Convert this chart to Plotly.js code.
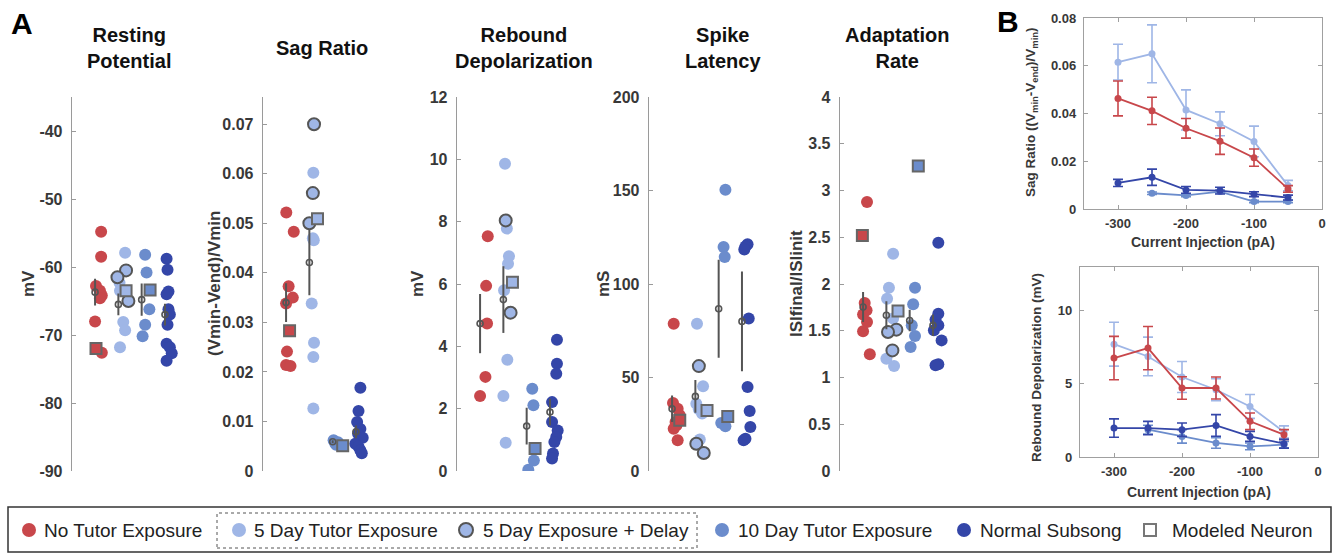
<!DOCTYPE html>
<html><head><meta charset="utf-8">
<script src="https://cdn.plot.ly/plotly-3.0.1.min.js"></script>
<style>html,body{margin:0;padding:0;background:#fff;}#chart{width:1340px;height:556px;}</style>
</head><body><div id="chart"></div>
<script>
// ---------------- DATA ----------------
const groupNames = ['No Tutor Exposure', '5 Day Tutor Exposure', '10 Day Tutor Exposure', 'Normal Subsong'];
const delayName = '5 Day Exposure + Delay';
const modeledName = 'Modeled Neuron';
const panelTitles = ['Resting<br>Potential', 'Sag Ratio', 'Rebound<br>Depolarization', 'Spike<br>Latency', 'Adaptation<br>Rate'];
const panelUnits = ['mV', '(Vmin-Vend)/Vmin', 'mV', 'mS', 'ISIfinal/ISIinit'];

// Resting potential (mV)
const restNoTutor = [-54.8, -58.5, -62.8, -63.5, -64.2, -64.6, -68.0, -72.6];
const restFiveDay = [-57.9, -62.3, -63.5, -68.1, -69.3, -71.8];
const restFiveDayDelay = [-60.5, -61.5, -65.0];
const restTenDay = [-58.2, -60.8, -66.2, -68.5, -70.2];
const restSubsong = [-58.8, -60.4, -63.6, -64.0, -66.2, -67.0, -68.5, -71.3, -71.8, -72.7, -73.8];
const restModeled = [-72.0, -63.5, -63.4, null];
const restMean = [-63.7, -65.5, -64.8, -67.0];
const restSem = [1.96, 1.6, 2.37, 1.6];
const restTicks = [-90, -80, -70, -60, -50, -40];

// Sag ratio
const sagNoTutor = [0.0522, 0.0483, 0.0373, 0.0350, 0.0338, 0.0241, 0.0214, 0.0212];
const sagFiveDay = [0.0602, 0.0470, 0.0466, 0.0338, 0.0259, 0.0230, 0.0126];
const sagFiveDayDelay = [0.0700, 0.0561, 0.0500];
const sagTenDay = [0.0062, 0.0056, 0.0058, 0.0053];
const sagSubsong = [0.0168, 0.0121, 0.0099, 0.0085, 0.0075, 0.0067, 0.0055, 0.0049, 0.0042, 0.0036];
const sagModeled = [0.0283, 0.0509, 0.0051, null];
const sagMean = [0.0340, 0.0421, 0.0059, 0.0079];
const sagSem = [0.0039, 0.0066, 0.0003, 0.0013];
const sagTicks = [0, 0.01, 0.02, 0.03, 0.04, 0.05, 0.06, 0.07];

// Rebound depolarization (mV)
const rebNoTutor = [7.53, 5.94, 4.73, 3.02, 2.41];
const rebFiveDay = [9.86, 7.78, 6.89, 6.65, 5.80, 3.57, 2.41, 0.91];
const rebFiveDayDelay = [8.04, 5.08];
const rebTenDay = [2.64, 2.11, 0.34, 0.04];
const rebSubsong = [4.21, 3.44, 3.12, 2.21, 1.57, 1.30, 1.09, 0.93, 0.56, 0.40];
const rebModeled = [null, 6.06, 0.72, null];
const rebMean = [4.73, 5.50, 1.44, 1.89];
const rebSem = [0.95, 1.07, 0.59, 0.43];
const rebTicks = [0, 2, 4, 6, 8, 10, 12];

// Spike latency (ms)
const spkNoTutor = [78.8, 36.4, 33.3, 29.8, 26.2, 24.5, 22.6, 16.4];
const spkFiveDay = [78.8, 45.3, 36.0, 33.0, 30.7, 16.8];
const spkFiveDayDelay = [56.1, 14.6, 9.6];
const spkTenDay = [150.4, 119.8, 114.4, 25.7, 23.9];
const spkSubsong = [121.2, 120.1, 118.5, 81.5, 44.9, 32.1, 23.5, 17.3, 16.4];
const spkModeled = [27.1, 32.4, 29.2, null];
const spkMean = [33.3, 39.9, 86.8, 80.0];
const spkSem = [7.1, 8.7, 26.2, 26.7];
const spkTicks = [0, 50, 100, 150, 200];

// Adaptation rate (ISIfinal/ISIinit)
const adpNoTutor = [2.877, 1.797, 1.72, 1.675, 1.594, 1.494, 1.248];
const adpFiveDay = [2.324, 1.961, 1.843, 1.63, 1.2, 1.123];
const adpFiveDayDelay = [1.512, 1.487, 1.29];
const adpTenDay = [1.961, 1.783, 1.56, 1.444, 1.326];
const adpSubsong = [2.442, 1.683, 1.619, 1.56, 1.505, 1.397, 1.141, 1.13];
const adpModeled = [2.52, 1.711, 3.262, null];
const adpMean = [1.754, 1.665, 1.61, 1.558];
const adpSem = [0.16, 0.15, 0.115, 0.115];
const adpTicks = [0, 0.5, 1, 1.5, 2, 2.5, 3, 3.5, 4];

// Horizontal scatter offsets of the points inside each group
const restJitter = [[0.11, 0.11, -0.11, 0.06, 0.14, 0.06, -0.15, 0.14], [0.14, -0.1, -0.08, 0.06, 0.14, -0.08], [0, 0.06, 0.18, 0, -0.11], [-0.08, -0.04, 0, -0.08, 0, 0.06, -0.04, -0.08, 0.06, 0.14, -0.08]];
const restDelayJitter = [0.18, -0.19, 0.28];
const restModeledJitter = [-0.11, 0.18, 0.21, 0];
const sagJitter = [[-0.14, 0.18, -0.04, 0.14, -0.15, -0.11, -0.15, 0.04], [0.02, 0, 0.04, -0.05, 0.05, 0.02, 0.02], [-0.11, -0.04, 0.08, 0], [0.04, -0.04, -0.1, 0.04, -0.06, 0.14, -0.18, -0.04, 0.04, 0.1]];
const sagDelayJitter = [0.05, 0, -0.15];
const sagModeledJitter = [0, 0.2, 0.28, 0];
const rebJitter = [[0.18, 0.11, 0.15, 0.08, -0.15], [-0.08, 0, 0.09, 0.05, -0.12, 0.02, -0.15, -0.05], [0.09, 0.14, 0.16, -0.08], [0.15, 0.15, 0.12, -0.06, -0.06, 0.18, 0.12, 0.04, -0.02, -0.06]];
const rebDelayJitter = [-0.05, 0.16];
const rebModeledJitter = [0, 0.24, 0.21, 0];
const spkJitter = [[-0.08, -0.11, 0.09, 0.18, 0, 0.04, -0.08, 0.09], [-0.08, 0.18, -0.11, 0, 0.14, 0.04], [0.14, 0.06, 0.11, -0.04, 0.14], [0.09, 0, -0.05, 0.14, 0.09, 0.18, 0.21, 0, -0.08]];
const spkDelayJitter = [0, -0.11, 0.21];
const spkModeledJitter = [0.18, 0.35, 0.24, 0];
const adpJitter = [[0.02, -0.08, 0, -0.15, 0.02, -0.15, 0.14], [0.14, -0.04, -0.12, 0.14, -0.15, 0.18], [0.08, 0, -0.06, 0.08, -0.11], [0.08, 0.08, -0.04, 0.08, -0.11, 0.22, 0.08, -0.04]];
const adpDelayJitter = [0.28, -0.08, 0.11];
const adpModeledJitter = [-0.18, 0.35, 0.22, 0];

// Panel B: current steps (pA)
const currentSteps = [-300, -250, -200, -150, -100, -50];
const currentTicks = [-300, -200, -100, 0];
const sagCurveTicks = [0, 0.02, 0.04, 0.06, 0.08];
const rebCurveTicks = [0, 5, 10];
const sagCurveNoTutor = [0.0463, 0.0411, 0.0338, 0.0284, 0.0215, 0.0084];
const sagCurveNoTutorErr = [0.0073, 0.0057, 0.0041, 0.0055, 0.0036, 0.0014];
const sagCurveFiveDay = [0.0615, 0.0650, 0.0415, 0.0357, 0.0283, 0.0098];
const sagCurveFiveDayErr = [0.0075, 0.0121, 0.0084, 0.0050, 0.0064, 0.0022];
const sagCurveTenDay = [null, 0.0066, 0.0057, 0.0073, 0.0031, 0.0031];
const sagCurveTenDayErr = [0, 0.0005, 0.0005, 0.0006, 0.0005, 0.0005];
const sagCurveSubsong = [0.0109, 0.0133, 0.0080, 0.0077, 0.0062, 0.0048];
const sagCurveSubsongErr = [0.0015, 0.0034, 0.0014, 0.0014, 0.0010, 0.0010];
const rebCurveNoTutor = [6.77, 7.45, 4.72, 4.72, 2.44, 1.53];
const rebCurveNoTutorErr = [1.48, 1.48, 0.77, 0.75, 0.57, 0.34];
const rebCurveFiveDay = [7.72, 6.88, 5.47, 4.60, 3.46, 1.71];
const rebCurveFiveDayErr = [1.5, 1.32, 1.06, 0.75, 0.82, 0.42];
const rebCurveTenDay = [null, 1.87, 1.41, 0.96, 0.73, 0.84];
const rebCurveTenDayErr = [0, 0.3, 0.46, 0.36, 0.23, 0.23];
const rebCurveSubsong = [1.98, 1.98, 1.87, 2.16, 1.41, 0.91];
const rebCurveSubsongErr = [0.63, 0.46, 0.46, 0.74, 0.34, 0.3];

// ---------------- STYLE ----------------
const groupColors = ['#C8474B', '#9FB6E6', '#6B8CCC', '#3446A8'];
const edgeGray = '#555555';
const SANS = "'Liberation Sans', Arial, Helvetica, sans-serif";
const W = 1340, H = 556;
const px = v => v / W;
const py = v => 1 - v / H;
const labels = arr => arr.map(v => '<b>' + String(v) + '</b>');   // plain hyphen minus, bold, as in the figure

const panels = [
  {groups: [restNoTutor, restFiveDay, restTenDay, restSubsong], jit: restJitter, delay: restFiveDayDelay, delayJit: restDelayJitter, modeled: restModeled, modeledJit: restModeledJitter, mean: restMean, sem: restSem, range: [-90, -35], tickvals: restTicks, axisPx: 72, titleX: 129, unitX: 28},
  {groups: [sagNoTutor, sagFiveDay, sagTenDay, sagSubsong], jit: sagJitter, delay: sagFiveDayDelay, delayJit: sagDelayJitter, modeled: sagModeled, modeledJit: sagModeledJitter, mean: sagMean, sem: sagSem, range: [0, 0.0755], tickvals: sagTicks, axisPx: 263, titleX: 322, unitX: 214},
  {groups: [rebNoTutor, rebFiveDay, rebTenDay, rebSubsong], jit: rebJitter, delay: rebFiveDayDelay, delayJit: rebDelayJitter, modeled: rebModeled, modeledJit: rebModeledJitter, mean: rebMean, sem: rebSem, range: [0, 12], tickvals: rebTicks, axisPx: 457, titleX: 524, unitX: 417},
  {groups: [spkNoTutor, spkFiveDay, spkTenDay, spkSubsong], jit: spkJitter, delay: spkFiveDayDelay, delayJit: spkDelayJitter, modeled: spkModeled, modeledJit: spkModeledJitter, mean: spkMean, sem: spkSem, range: [0, 200], tickvals: spkTicks, axisPx: 649, titleX: 723, unitX: 603},
  {groups: [adpNoTutor, adpFiveDay, adpTenDay, adpSubsong], jit: adpJitter, delay: adpFiveDayDelay, delayJit: adpDelayJitter, modeled: adpModeled, modeledJit: adpModeledJitter, mean: adpMean, sem: adpSem, range: [0, 4], tickvals: adpTicks, axisPx: 840, titleX: 897, unitX: 796}
];

const traces = [];
const layout = {
  width: W, height: H, margin: {l: 0, r: 0, t: 0, b: 0},
  paper_bgcolor: '#fff', plot_bgcolor: 'rgba(0,0,0,0)', showlegend: false,
  annotations: [], shapes: []
};

const X_RANGE = [-0.14, 4.6];
const UNIT_PX = 23.3;
const yDomA = [1 - 471 / H, 1 - 97 / H];
const tickFontA = {family: SANS, size: 16, color: '#383838'};

panels.forEach((p, i) => {
  const n = i + 1;
  const xa = 'x' + (n === 1 ? '' : n), ya = 'y' + (n === 1 ? '' : n);
  const xKey = 'xaxis' + (n === 1 ? '' : n), yKey = 'yaxis' + (n === 1 ? '' : n);
  const x0 = p.axisPx, x1 = p.axisPx + (X_RANGE[1] - X_RANGE[0]) * UNIT_PX;
  layout[xKey] = {domain: [px(x0), px(x1)], range: X_RANGE, visible: false, anchor: ya, fixedrange: true};
  layout[yKey] = {
    domain: yDomA, range: p.range, anchor: xa, tickmode: 'array', tickvals: p.tickvals, ticktext: labels(p.tickvals),
    showline: true, linecolor: '#9a9a9a', linewidth: 1.3, ticks: 'inside', ticklen: 4, tickcolor: '#9a9a9a',
    showgrid: false, zeroline: false, ticklabelstandoff: 5, fixedrange: true,
    tickfont: tickFontA
  };
  p.groups.forEach((vals, g) => {
    traces.push({
      type: 'scatter', mode: 'markers', xaxis: xa, yaxis: ya, name: groupNames[g],
      x: vals.map((v, k) => g + 1 + p.jit[g][k]), y: vals,
      marker: {color: groupColors[g], size: 12, line: {width: 0}}
    });
  });
  traces.push({
    type: 'scatter', mode: 'markers', xaxis: xa, yaxis: ya, name: delayName,
    x: p.delay.map((v, k) => 2 + p.delayJit[k]), y: p.delay,
    marker: {color: groupColors[1], size: 12, line: {width: 2, color: edgeGray}}
  });
  const mx = [], my = [], mc = [];
  p.modeled.forEach((v, g) => { if (v !== null) { mx.push(g + 1 + p.modeledJit[g]); my.push(v); mc.push(groupColors[g]); } });
  traces.push({
    type: 'scatter', mode: 'markers', xaxis: xa, yaxis: ya, name: modeledName, x: mx, y: my,
    marker: {symbol: 'square', color: mc, size: 11, line: {width: 2, color: '#666'}}
  });
  traces.push({
    type: 'scatter', mode: 'markers', xaxis: xa, yaxis: ya, name: 'mean ± SEM',
    x: p.mean.map((v, g) => g + 1 - 0.15), y: p.mean,
    error_y: {type: 'data', array: p.sem, visible: true, color: edgeGray, thickness: 2, width: 0},
    marker: {symbol: 'circle-open', color: edgeGray, size: 6, line: {width: 1.6, color: edgeGray}}
  });
  layout.annotations.push({xref: 'paper', yref: 'paper', x: px(p.titleX), y: py(48), text: '<b>' + panelTitles[i] + '</b>',
    showarrow: false, xanchor: 'center', yanchor: 'middle', font: {family: SANS, size: 20, color: '#111'}});
  layout.annotations.push({xref: 'paper', yref: 'paper', x: px(p.unitX), y: py(284), text: '<b>' + panelUnits[i] + '</b>',
    showarrow: false, textangle: -90, xanchor: 'center', yanchor: 'middle', font: {family: SANS, size: 17, color: '#383838'}});
});

// -------- Panel B ---------
const bSeries = [
  {top: sagCurveFiveDay, topErr: sagCurveFiveDayErr, bot: rebCurveFiveDay, botErr: rebCurveFiveDayErr, g: 1},
  {top: sagCurveNoTutor, topErr: sagCurveNoTutorErr, bot: rebCurveNoTutor, botErr: rebCurveNoTutorErr, g: 0},
  {top: sagCurveTenDay, topErr: sagCurveTenDayErr, bot: rebCurveTenDay, botErr: rebCurveTenDayErr, g: 2},
  {top: sagCurveSubsong, topErr: sagCurveSubsongErr, bot: rebCurveSubsong, botErr: rebCurveSubsongErr, g: 3}
];
bSeries.forEach(s => {
  [['x6', 'y6', s.top, s.topErr], ['x7', 'y7', s.bot, s.botErr]].forEach(([xa, ya, vals, errs]) => {
    traces.push({
      type: 'scatter', mode: 'lines+markers', xaxis: xa, yaxis: ya, name: groupNames[s.g],
      x: currentSteps, y: vals, connectgaps: false,
      line: {color: groupColors[s.g], width: 1.8},
      marker: {color: groupColors[s.g], size: 7},
      error_y: {type: 'data', array: errs, visible: true, color: groupColors[s.g], thickness: 1.6, width: 5}
    });
  });
});
const tickFontB = {family: SANS, size: 13, color: '#383838'};
const bAxisX = {
  range: [-350, 0], tickmode: 'array', tickvals: currentTicks, ticktext: labels(currentTicks),
  showline: true, mirror: 'ticks', linecolor: '#a0a0a0', linewidth: 1.2,
  ticks: 'inside', ticklen: 4, tickcolor: '#a0a0a0', showgrid: false, zeroline: false, fixedrange: true,
  ticklabelstandoff: 2, tickfont: tickFontB
};
const bAxisY = {
  showline: true, mirror: 'ticks', linecolor: '#a0a0a0', linewidth: 1.2, ticks: 'inside', ticklen: 4, tickcolor: '#a0a0a0',
  showgrid: false, zeroline: false, fixedrange: true, ticklabelstandoff: 4, tickmode: 'array',
  tickfont: tickFontB
};
layout.xaxis6 = Object.assign({}, bAxisX, {domain: [px(1084), px(1322)], anchor: 'y6'});
layout.yaxis6 = Object.assign({}, bAxisY, {domain: [py(209), py(18)], anchor: 'x6', range: [0, 0.08], tickvals: sagCurveTicks, ticktext: labels(sagCurveTicks)});
layout.xaxis7 = Object.assign({}, bAxisX, {domain: [px(1080), px(1318)], anchor: 'y7'});
layout.yaxis7 = Object.assign({}, bAxisY, {domain: [py(457), py(267)], anchor: 'x7', range: [0, 13], tickvals: rebCurveTicks, ticktext: labels(rebCurveTicks)});

const bFont = {family: SANS, size: 14, color: '#383838'};
layout.annotations.push(
  {xref: 'paper', yref: 'paper', x: px(1203), y: py(242), text: '<b>Current Injection (pA)</b>', showarrow: false, xanchor: 'center', yanchor: 'middle', font: bFont},
  {xref: 'paper', yref: 'paper', x: px(1199), y: py(492), text: '<b>Current Injection (pA)</b>', showarrow: false, xanchor: 'center', yanchor: 'middle', font: bFont},
  {xref: 'paper', yref: 'paper', x: px(1032), y: py(112), text: '<b>Sag Ratio ((V<sub>min</sub>-V<sub>end</sub>)/V<sub>min</sub>)</b>', showarrow: false, textangle: -90, xanchor: 'center', yanchor: 'middle', font: {family: SANS, size: 13.5, color: '#383838'}},
  {xref: 'paper', yref: 'paper', x: px(1036), y: py(368), text: '<b>Rebound Depolarization (mV)</b>', showarrow: false, textangle: -90, xanchor: 'center', yanchor: 'middle', font: {family: SANS, size: 13.5, color: '#383838'}},
  {xref: 'paper', yref: 'paper', x: px(22), y: py(24), text: '<b>A</b>', showarrow: false, xanchor: 'center', yanchor: 'middle', font: {family: SANS, size: 30, color: '#000'}},
  {xref: 'paper', yref: 'paper', x: px(1008), y: py(22), text: '<b>B</b>', showarrow: false, xanchor: 'center', yanchor: 'middle', font: {family: SANS, size: 30, color: '#000'}}
);

// -------- Legend (drawn as decoration) ---------
const legY = 530;
layout.shapes.push(
  {type: 'rect', xref: 'paper', yref: 'paper', x0: px(8), x1: px(1331), y0: py(552), y1: py(507), line: {color: '#333', width: 1.5}, fillcolor: 'rgba(0,0,0,0)'},
  {type: 'rect', xref: 'paper', yref: 'paper', x0: px(217), x1: px(697), y0: py(548), y1: py(513), line: {color: '#555', width: 1, dash: 'dot'}, fillcolor: 'rgba(0,0,0,0)'}
);
const legItems = [
  {cx: 29, tx: 42, text: groupNames[0], fill: groupColors[0], edge: null, kind: 'circle'},
  {cx: 239, tx: 252, text: groupNames[1], fill: groupColors[1], edge: null, kind: 'circle'},
  {cx: 466, tx: 481, text: delayName, fill: groupColors[1], edge: edgeGray, kind: 'circle'},
  {cx: 722, tx: 736, text: groupNames[2], fill: groupColors[2], edge: null, kind: 'circle'},
  {cx: 964, tx: 978, text: groupNames[3], fill: groupColors[3], edge: null, kind: 'circle'},
  {cx: 1150, tx: 1170, text: modeledName, fill: '#fff', edge: '#777', kind: 'rect'}
];
legItems.forEach(it => {
  const r = it.kind === 'rect' ? 6 : 7;
  layout.shapes.push({
    type: it.kind, xref: 'paper', yref: 'paper', xsizemode: 'pixel', ysizemode: 'pixel',
    xanchor: px(it.cx), yanchor: py(legY), x0: -r, x1: r, y0: -r, y1: r,
    fillcolor: it.fill, line: it.edge ? {color: it.edge, width: 2} : {width: 0}
  });
  layout.annotations.push({xref: 'paper', yref: 'paper', x: px(it.tx), y: py(legY), text: it.text, showarrow: false,
    xanchor: 'left', yanchor: 'middle', font: {family: SANS, size: 19, color: '#222'}});
});

Plotly.newPlot('chart', traces, layout, {displayModeBar: false, staticPlot: true});
</script></body></html>
